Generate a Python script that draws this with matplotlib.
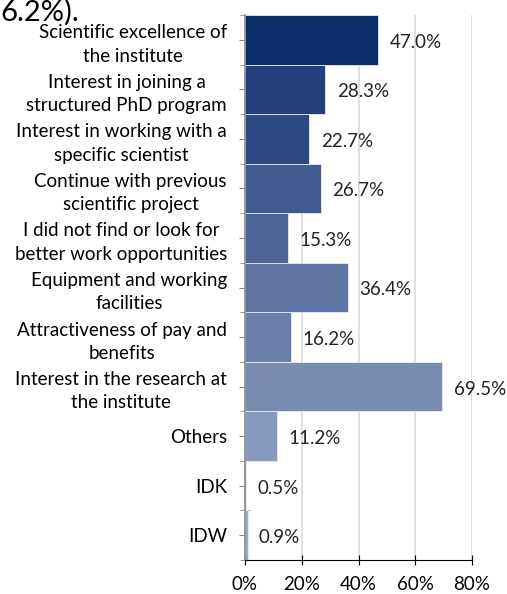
import numpy as np
import matplotlib.pyplot as plt

# reasons for choosing the institute, share of respondents (%)
categories = ['Scientific excellence of\nthe institute',
              'Interest in joining a\nstructured PhD program',
              'Interest in working with a\nspecific scientist',
              'Continue with previous\nscientific project',
              'I did not find or look for\nbetter work opportunities',
              'Equipment and working\nfacilities',
              'Attractiveness of pay and\nbenefits',
              'Interest in the research at\nthe institute',
              'Others', 'IDK', 'IDW']
values = [47.0, 28.3, 22.7, 26.7, 15.3, 36.4, 16.2, 69.5, 11.2, 0.5, 0.9]
colors = ['#0b2d6a', '#233f7a', '#2c4a82', '#435c8f', '#4c6596', '#5d73a0',
          '#697ea8', '#798cb0', '#8797bd', '#8fa0c4', '#9aaac9']

plt.rcParams['font.family'] = ['Lato', 'DejaVu Sans']

fig = plt.figure(figsize=(5.07, 5.94), dpi=100)
ax = fig.add_axes([245 / 507, 34 / 594, 227 / 507, 545 / 594])

y = np.arange(len(values))
ax.barh(y, values, height=1.0, color=colors, edgecolor='#e8ebf2', linewidth=0.6, zorder=2)
for yi, v in zip(y, values):
    ax.text(v + 4, yi + 0.05, '{0:.1f}%'.format(v), va='center', ha='left', fontsize=13.5, color='#222222')

ax.set_xlim(0, 80)
ax.set_ylim(len(values) - 0.5, -0.5)
ax.set_xticks([0, 20, 40, 60, 80])
ax.set_xticklabels(['0%', '20%', '40%', '60%', '80%'], fontsize=13.5)
ax.xaxis.grid(True, color='#d9d9d9', linewidth=1.2, zorder=0)
ax.set_axisbelow(True)

# category labels at bar centres, tick marks at bar boundaries
ax.set_yticks(y)
ax.set_yticklabels(categories, fontsize=13.5, linespacing=1.45)
for t in ax.get_yticklabels():
    t.set_multialignment('center')
ax.set_yticks(np.arange(-0.5, len(values)), minor=True)
ax.tick_params(axis='y', which='major', length=4, direction='out', color='#888888', pad=9)
ax.tick_params(axis='y', which='minor', length=7, direction='inout', color='#888888')
ax.tick_params(axis='x', length=7, direction='inout', color='black', pad=8)

for s in ['top', 'right']:
    ax.spines[s].set_visible(False)
ax.spines['left'].set_color('#888888')
ax.spines['left'].set_linewidth(1.2)
ax.spines['bottom'].set_color('black')

fig.text(0.0, 1 - 21 / 594, '6.2%).', fontsize=21, ha='left', va='baseline', color='black')

fig.savefig('out.png', dpi=100)
